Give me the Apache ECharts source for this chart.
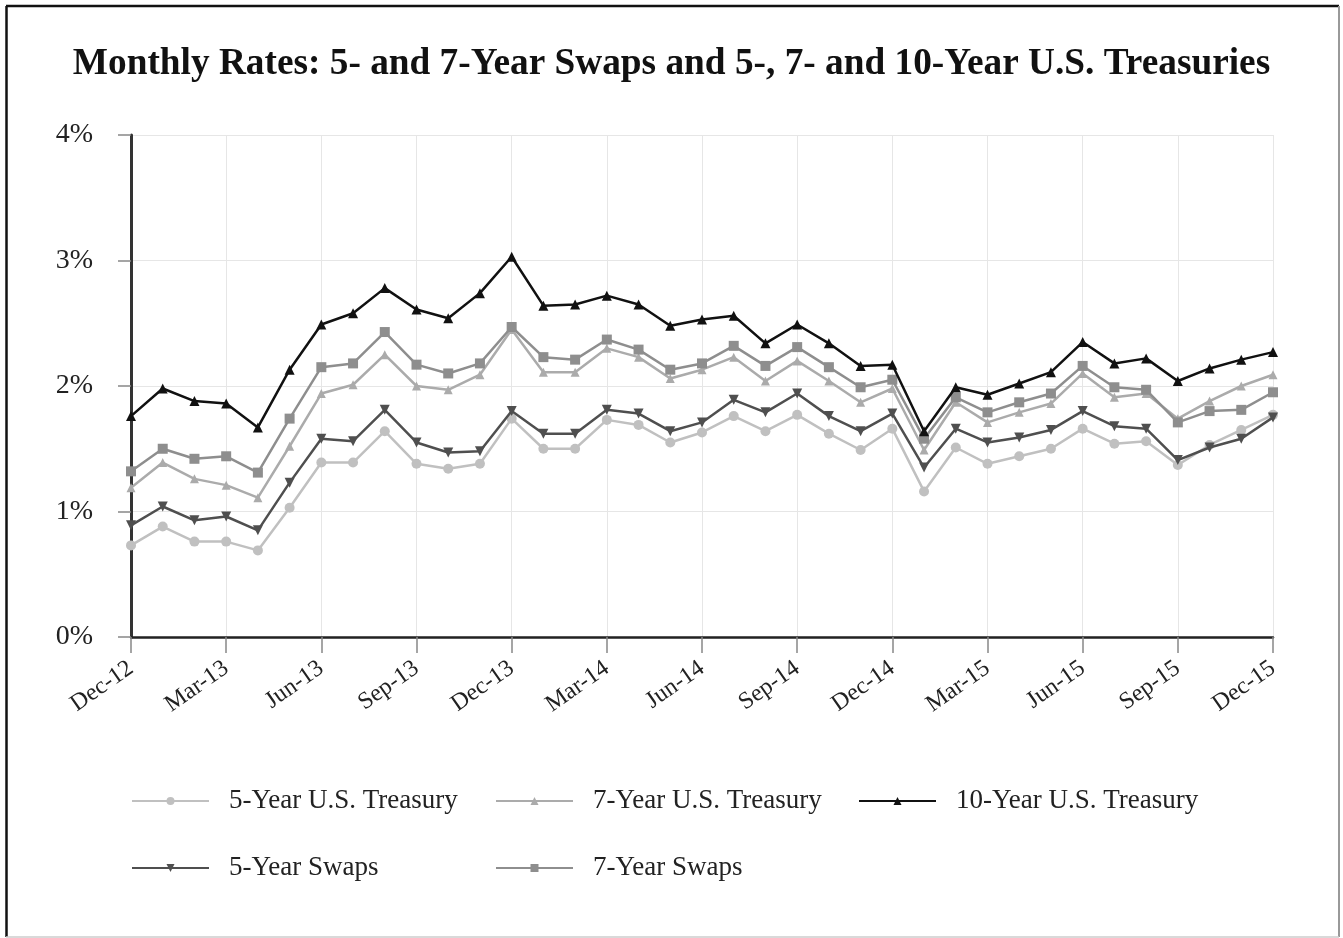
<!DOCTYPE html>
<html>
<head>
<meta charset="utf-8">
<script src="https://cdn.jsdelivr.net/npm/echarts@6/dist/echarts.min.js"></script>
<style>
  html, body { margin: 0; padding: 0; background: #fff; }
  #chart { width: 1343px; height: 938px; }
</style>
</head>
<body>
<div id="chart"></div>
<script>
// Month-end observations, Dec-2012 through Dec-2015 (percent)
const months = [
  'Dec-12','Jan-13','Feb-13','Mar-13','Apr-13','May-13','Jun-13','Jul-13','Aug-13','Sep-13','Oct-13','Nov-13',
  'Dec-13','Jan-14','Feb-14','Mar-14','Apr-14','May-14','Jun-14','Jul-14','Aug-14','Sep-14','Oct-14','Nov-14',
  'Dec-14','Jan-15','Feb-15','Mar-15','Apr-15','May-15','Jun-15','Jul-15','Aug-15','Sep-15','Oct-15','Nov-15',
  'Dec-15'
];

const treasury5 = [
  0.73, 0.88, 0.76, 0.76, 0.69, 1.03, 1.39, 1.39, 1.64, 1.38, 1.34, 1.38,
  1.74, 1.50, 1.50, 1.73, 1.69, 1.55, 1.63, 1.76, 1.64, 1.77, 1.62, 1.49,
  1.66, 1.16, 1.51, 1.38, 1.44, 1.50, 1.66, 1.54, 1.56, 1.37, 1.53, 1.65,
  1.77
];

const treasury7 = [
  1.19, 1.39, 1.26, 1.21, 1.11, 1.52, 1.94, 2.01, 2.25, 2.00, 1.97, 2.09,
  2.45, 2.11, 2.11, 2.30, 2.23, 2.06, 2.13, 2.23, 2.04, 2.20, 2.04, 1.87,
  1.98, 1.49, 1.87, 1.71, 1.79, 1.86, 2.10, 1.91, 1.94, 1.74, 1.88, 2.00,
  2.09
];

const treasury10 = [
  1.76, 1.98, 1.88, 1.86, 1.67, 2.13, 2.49, 2.58, 2.78, 2.61, 2.54, 2.74,
  3.03, 2.64, 2.65, 2.72, 2.65, 2.48, 2.53, 2.56, 2.34, 2.49, 2.34, 2.16,
  2.17, 1.64, 1.99, 1.93, 2.02, 2.11, 2.35, 2.18, 2.22, 2.04, 2.14, 2.21,
  2.27
];

const swaps5 = [
  0.89, 1.04, 0.93, 0.96, 0.85, 1.23, 1.58, 1.56, 1.81, 1.55, 1.47, 1.48,
  1.80, 1.62, 1.62, 1.81, 1.78, 1.64, 1.71, 1.89, 1.79, 1.94, 1.76, 1.64,
  1.78, 1.35, 1.66, 1.55, 1.59, 1.65, 1.80, 1.68, 1.66, 1.41, 1.51, 1.58,
  1.75
];

const swaps7 = [
  1.32, 1.50, 1.42, 1.44, 1.31, 1.74, 2.15, 2.18, 2.43, 2.17, 2.10, 2.18,
  2.47, 2.23, 2.21, 2.37, 2.29, 2.13, 2.18, 2.32, 2.16, 2.31, 2.15, 1.99,
  2.05, 1.58, 1.91, 1.79, 1.87, 1.94, 2.16, 1.99, 1.97, 1.71, 1.80, 1.81,
  1.95
];

const yTicks = [0, 1, 2, 3, 4];

const FONT = '"Liberation Serif", "Times New Roman", serif';

const seriesDefs = [
  { name: '5-Year U.S. Treasury', data: treasury5,  color: '#c0c0c0', symbol: 'circle',   size: 10, rotate: 0,   z: 2 },
  { name: '7-Year U.S. Treasury', data: treasury7,  color: '#ababab', symbol: 'triangle', size: 9,  rotate: 0,   z: 3 },
  { name: '10-Year U.S. Treasury', data: treasury10, color: '#111111', symbol: 'triangle', size: 10, rotate: 0,   z: 6 },
  { name: '5-Year Swaps',          data: swaps5,     color: '#4f4f4f', symbol: 'triangle', size: 10, rotate: 180, z: 5 },
  { name: '7-Year Swaps',          data: swaps7,     color: '#8e8e8e', symbol: 'rect',     size: 10, rotate: 0,   z: 4 }
];

// legend placement: three columns, two rows
const legendSlots = [
  { name: '5-Year U.S. Treasury',  left: 131, cy: 801 },
  { name: '7-Year U.S. Treasury',  left: 495, cy: 801 },
  { name: '10-Year U.S. Treasury', left: 858, cy: 801 },
  { name: '5-Year Swaps',          left: 131, cy: 868 },
  { name: '7-Year Swaps',          left: 495, cy: 868 }
];

const chart = echarts.init(document.getElementById('chart'), null, { renderer: 'canvas' });

const option = {
  backgroundColor: '#ffffff',
  animation: false,
  title: {
    text: 'Monthly Rates: 5- and 7-Year Swaps and 5-, 7- and 10-Year U.S. Treasuries',
    left: 'center',
    top: 41,
    textStyle: { fontFamily: FONT, fontSize: 37.3, fontWeight: 'bold', color: '#111' }
  },
  legend: legendSlots.map(s => ({
    data: [s.name],
    left: s.left,
    top: s.cy - 14,
    itemWidth: 77,
    itemHeight: 10,
    padding: 0,
    textStyle: { fontFamily: FONT, fontSize: 27, color: '#222', lineHeight: 28, padding: [0, 0, 0, 15] }
  })),
  grid: { left: 131, right: 70, top: 135, bottom: 301, containLabel: false },
  xAxis: {
    type: 'category',
    data: months,
    boundaryGap: false,
    axisLine: { lineStyle: { color: '#222', width: 2.5 } },
    axisTick: { show: true, interval: 2, length: 16, lineStyle: { color: '#888', width: 1.5 } },
    axisLabel: {
      interval: 2,
      rotate: 35,
      margin: 29,
      fontFamily: FONT,
      fontSize: 24,
      color: '#222'
    },
    splitLine: { show: true, interval: 2, lineStyle: { color: '#e6e6e6', width: 1 } }
  },
  yAxis: {
    type: 'value',
    min: yTicks[0],
    max: yTicks[yTicks.length - 1],
    interval: 1,
    axisLine: { show: true, lineStyle: { color: '#333', width: 3 } },
    axisTick: { show: true, length: 13, lineStyle: { color: '#888', width: 1.5 } },
    axisLabel: {
      formatter: v => v + '%',
      margin: 38,
      fontFamily: FONT,
      fontSize: 28,
      color: '#222'
    },
    splitLine: { show: true, lineStyle: { color: '#e6e6e6', width: 1 } }
  },
  series: seriesDefs.map(d => ({
    name: d.name,
    type: 'line',
    data: d.data,
    symbol: d.symbol,
    symbolSize: d.size,
    symbolRotate: d.rotate,
    showSymbol: true,
    z: d.z,
    itemStyle: { color: d.color },
    lineStyle: { color: d.color, width: 2.5 }
  })),
  graphic: [
    // page frame
    { type: 'line', shape: { x1: 6, y1: 6, x2: 1339, y2: 6 }, style: { stroke: '#111', lineWidth: 2.5 }, silent: true },
    { type: 'line', shape: { x1: 6.5, y1: 6, x2: 6.5, y2: 937 }, style: { stroke: '#111', lineWidth: 2.5 }, silent: true },
    { type: 'line', shape: { x1: 1339, y1: 6, x2: 1339, y2: 937 }, style: { stroke: '#999', lineWidth: 2 }, silent: true },
    { type: 'line', shape: { x1: 6, y1: 937, x2: 1339, y2: 937 }, style: { stroke: '#ccc', lineWidth: 1.5 }, silent: true }
  ]
};

chart.setOption(option);
</script>
</body>
</html>
